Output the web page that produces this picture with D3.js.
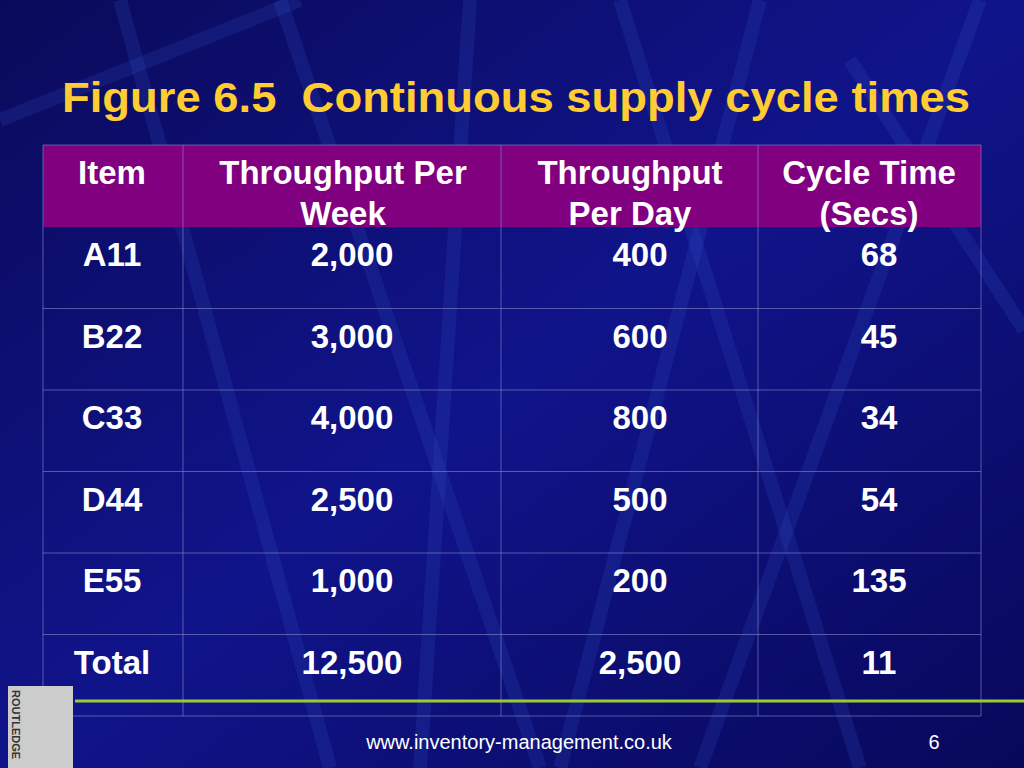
<!DOCTYPE html>
<html><head><meta charset="utf-8">
<script src="https://cdn.jsdelivr.net/npm/d3@7"></script>
<style>body{margin:0;overflow:hidden;background:#000066}</style>
</head><body>
<script>
const title = "Figure 6.5\u00a0 Continuous supply cycle times";
const headers = [["Item"],["Throughput Per","Week"],["Throughput","Per Day"],["Cycle Time","(Secs)"]];
const items = ["A11","B22","C33","D44","E55","Total"];
const perWeek = ["2,000","3,000","4,000","2,500","1,000","12,500"];
const perDay = ["400","600","800","500","200","2,500"];
const cycleTime = ["68","45","34","54","135","11"];
const footer = "www.inventory-management.co.uk";
const pageNo = "6";

const W=1024,H=768;
const svg=d3.select("body").append("svg").attr("width",W).attr("height",H);
const defs=svg.append("defs");
const g=defs.append("linearGradient").attr("id","bg").attr("x1",0).attr("y1",0).attr("x2",1).attr("y2",1);
g.append("stop").attr("offset","0%").attr("stop-color","#0a0a5a");
g.append("stop").attr("offset","50%").attr("stop-color","#10148a");
g.append("stop").attr("offset","100%").attr("stop-color","#08085a");
svg.append("rect").attr("width",W).attr("height",H).attr("fill","url(#bg)");
const streaks=[[280,0,540,768],[470,0,420,768],[620,0,860,768],[760,0,560,768],[0,120,300,0],[850,60,1024,330],[120,0,330,768],[980,0,700,768]];
svg.selectAll("line.s").data(streaks).join("line").attr("x1",d=>d[0]).attr("y1",d=>d[1]).attr("x2",d=>d[2]).attr("y2",d=>d[3])
 .attr("stroke","#3a5acc").attr("stroke-opacity",0.18).attr("stroke-width",14);

svg.append("text").attr("x",62).attr("y",112).text(title).attr("fill","#FFCC33")
 .attr("font-family","Liberation Sans, Arial").attr("font-weight","bold").attr("font-size",43)
 .attr("textLength",908).attr("lengthAdjust","spacingAndGlyphs");

const colEdges=[43,183,501,758,981];
const colCenters=[112,343,630,869];
const valCenters=[112,352,640,879];
const x=d3.scaleOrdinal().domain([0,1,2,3]).range(colCenters);
const y=d3.scaleBand().domain(items).range([227,716]);
const T=svg.append("g");
T.append("rect").attr("x",43).attr("y",145).attr("width",938).attr("height",82).attr("fill","#800080");
T.selectAll("line.h").data(items.slice(1).map(d=>y(d)).concat([716])).join("line")
 .attr("x1",43).attr("x2",981).attr("y1",d=>d).attr("y2",d=>d).attr("stroke","#8888cc").attr("stroke-opacity",0.6);
T.selectAll("line.v").data(colEdges).join("line").attr("x1",d=>d).attr("x2",d=>d).attr("y1",145).attr("y2",716)
 .attr("stroke","#8888cc").attr("stroke-opacity",0.6);
T.append("line").attr("x1",43).attr("x2",981).attr("y1",145).attr("y2",145).attr("stroke","#8888cc").attr("stroke-opacity",0.6);

const font=t=>t.attr("fill","white").attr("font-family","Liberation Sans, Arial").attr("font-weight","bold").attr("font-size",33).attr("text-anchor","middle");
headers.forEach((h,i)=>h.forEach((l,j)=>font(T.append("text").attr("x",x(i)).attr("y",184+j*41).text(l))));
const cols=[items,perWeek,perDay,cycleTime];
cols.forEach((c,i)=>c.forEach((v,r)=>font(T.append("text").attr("x",valCenters[i]).attr("y",y(items[r])+39).text(v))));

svg.append("line").attr("x1",75).attr("x2",1024).attr("y1",701).attr("y2",701).attr("stroke","#99cc33").attr("stroke-width",3);
svg.append("rect").attr("x",8).attr("y",686).attr("width",65).attr("height",82).attr("fill","#ccc");
svg.append("text").attr("transform","translate(12,690) rotate(90)").text("ROUTLEDGE").attr("fill","#333").attr("font-family","Liberation Sans").attr("font-weight","bold").attr("font-size",11);
svg.append("text").attr("x",519).attr("y",749).attr("text-anchor","middle").text(footer).attr("fill","white").attr("font-family","Liberation Sans, Arial").attr("font-size",20);
svg.append("text").attr("x",934).attr("y",749).attr("text-anchor","middle").text(pageNo).attr("fill","white").attr("font-family","Liberation Sans, Arial").attr("font-size",20);
</script>
</body></html>
